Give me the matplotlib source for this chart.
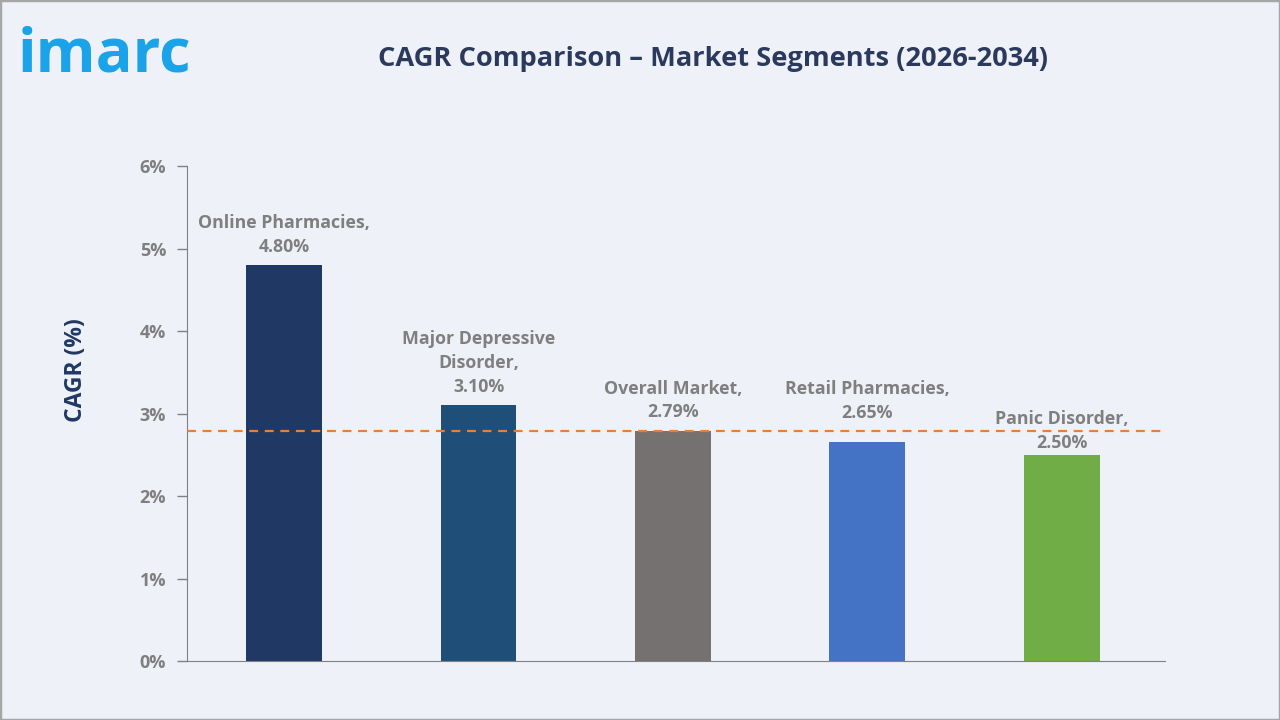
import matplotlib.pyplot as plt
from matplotlib.patches import Rectangle

# Chart data
segments = ["Online Pharmacies,", "Major Depressive\nDisorder,", "Overall Market,",
            "Retail Pharmacies,", "Panic Disorder,"]
cagr = [4.80, 3.10, 2.79, 2.65, 2.50]
overall_cagr = 2.79
yticks = [0, 1, 2, 3, 4, 5, 6]
bar_colors = ["#1F3864", "#1F4E79", "#767171", "#4472C4", "#70AD47"]
# vertical nudge of each data label above its bar (points)
label_gaps = [7, 7, 7, 15, 2]

plt.rcParams['font.family'] = ['Open Sans', 'DejaVu Sans']

fig = plt.figure(figsize=(12.8, 7.2), dpi=100)
fig.patch.set_facecolor("#EEF2F8")
fig.patches.append(Rectangle((0, 0), 1, 1, transform=fig.transFigure, fill=False,
                             edgecolor="#A6A6A6", linewidth=2.5))

ax = fig.add_axes([0.146, 0.082, 0.764, 0.687])
ax.set_facecolor("#EEF2F8")

x = range(len(cagr))
ax.bar(x, cagr, width=0.39, color=bar_colors, zorder=2)

# Overall market reference line
ax.axhline(overall_cagr, color="#ED7D31", linestyle=(0, (4, 3)), linewidth=1.6, zorder=3)

# Data labels
for i, (name, val) in enumerate(zip(segments, cagr)):
    ax.annotate(f"{name}\n{val:.2f}%", (i, val), xytext=(0, label_gaps[i]), textcoords="offset points",
                ha="center", va="bottom", fontsize=12.8, fontweight="bold", color="#7F7F7F",
                linespacing=1.4, zorder=4)

ax.set_xlim(-0.5, 4.53)
ax.set_ylim(0, 6)
ax.set_yticks(yticks)
ax.set_yticklabels([f"{t}%" for t in yticks], fontsize=13, fontweight="bold", color="#7F7F7F")
ax.set_xticks([])
ax.tick_params(axis="y", direction="out", length=7, width=1, color="#808080", pad=8)
for side in ["top", "right"]:
    ax.spines[side].set_visible(False)
ax.spines["left"].set_color("#808080")
ax.spines["bottom"].set_color("#808080")
ax.set_ylabel("CAGR (%)", fontsize=16.5, fontweight="bold", color="#1F3864")
ax.yaxis.set_label_coords(-0.101, 0.588)

# Title and logo
fig.text(0.557, 0.918, "CAGR Comparison – Market Segments (2026-2034)", ha="center", va="center",
         fontsize=19.6, fontweight="bold", color="#2B3A5C")
fig.text(0.014, 0.922, "imarc", ha="left", va="center", fontsize=44, fontweight="bold",
         color="#1AA3E8")

fig.savefig("out.png", dpi=100, facecolor=fig.get_facecolor())
